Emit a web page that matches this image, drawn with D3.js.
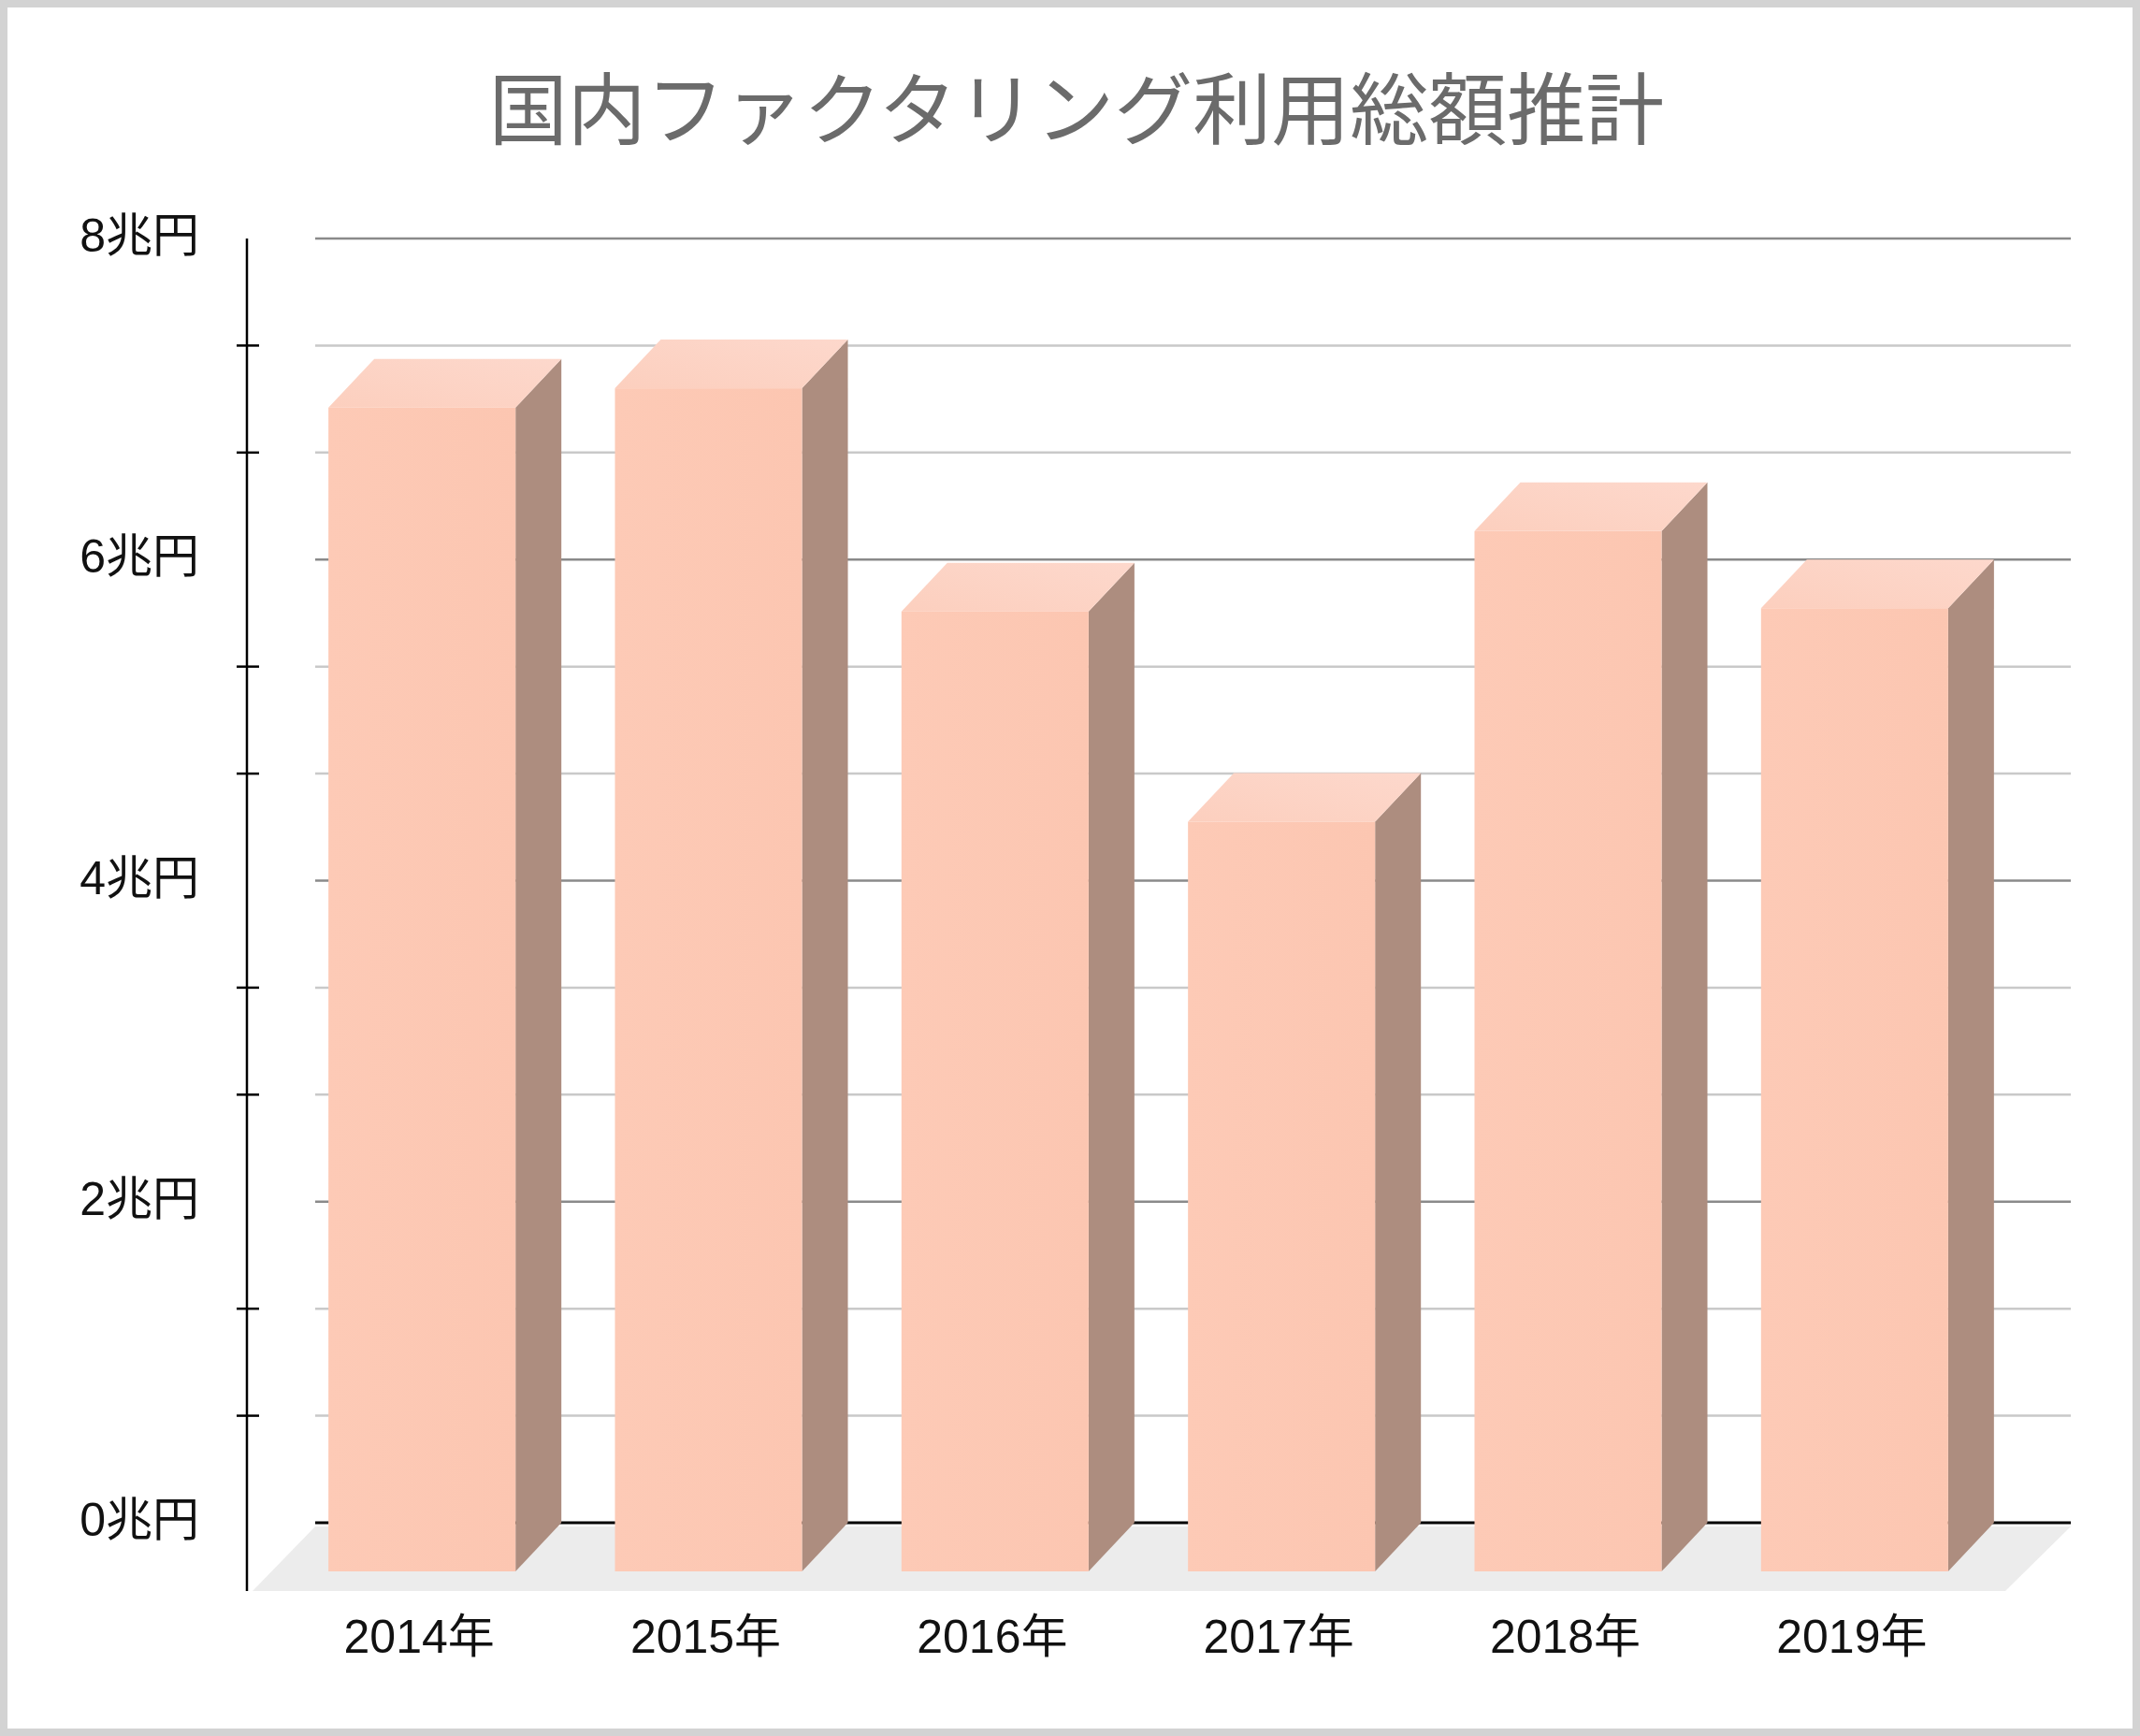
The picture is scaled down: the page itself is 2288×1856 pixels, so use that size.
<!DOCTYPE html>
<html>
<head>
<meta charset="utf-8">
<script src="https://cdn.jsdelivr.net/npm/d3@7"></script>
<style>
  body{margin:0;background:#fff;}
  svg{display:block;}
</style>
</head>
<body>
<svg id="canvas" width="2288" height="1856"></svg>
<script>
// data (兆円)
let years=["2014年","2015年","2016年","2017年","2018年","2019年"];
let values=[7.25,7.37,5.98,4.67,6.48,6.0];
let yTicks=[0,2,4,6,8];
let yTickLabels=["0兆円","2兆円","4兆円","6兆円","8兆円"];

let canvas=d3.select("#canvas");
let w=2288, h=1856;

// frame
canvas.append("rect").attr("x",4).attr("y",4).attr("width",w-8).attr("height",h-8)
  .attr("fill","#fff").attr("stroke","#d3d3d3").attr("stroke-width",8);

// title
canvas.append("text").text("国内ファクタリング利用総額推計")
  .attr("x",1151).attr("y",111).attr("text-anchor","middle").attr("dominant-baseline","central")
  .style("font","400 84px 'Noto Sans CJK JP'").style("fill","#6b6b6b");

// 3d depth offset
let dx=49, dy=52;
let gridX0=337, gridX1=2214;
let axisX=264;

let yScale=d3.scaleLinear().domain([0,8]).range([1628,255]);
let xScale=d3.scaleBand().domain(years).range([298,2136]).paddingInner(0.347).paddingOuter(0.1735);

// floor
let fy0=yScale(0)+4, fy1=yScale(0)+73;
canvas.append("polygon")
  .attr("points",[[gridX0,fy0],[gridX1,fy0],[gridX1-70,fy1],[gridX0-67,fy1]].map(p=>p.join(",")).join(" "))
  .attr("fill","#ececec");

// gridlines every 2/3
let grid=d3.range(0,13).map(i=>i*2/3);
canvas.selectAll(".grid").data(grid).enter().append("line")
  .attr("x1",gridX0).attr("x2",gridX1)
  .attr("y1",d=>yScale(d)).attr("y2",d=>yScale(d))
  .style("stroke",(d,i)=>i==0?"#000":(i%3==0?"#8a8a8a":"#c9c9c9"))
  .style("stroke-width",(d,i)=>i==0?3:2.5);

// axis + minor ticks
canvas.append("line").attr("x1",axisX).attr("x2",axisX)
  .attr("y1",yScale(8)).attr("y2",fy1).style("stroke","#000").style("stroke-width",2.5);
canvas.selectAll(".tick").data(grid.filter((d,i)=>i%3!=0)).enter().append("line")
  .attr("x1",axisX-11).attr("x2",axisX+13)
  .attr("y1",d=>yScale(d)).attr("y2",d=>yScale(d))
  .style("stroke","#000").style("stroke-width",2.5);

for(let i=0;i<yTicks.length;i++){
  canvas.append("text").text(yTickLabels[i]).attr("x",213).attr("y",yScale(yTicks[i])-3)
    .attr("text-anchor","end").attr("dominant-baseline","central")
    .style("font","50px 'Liberation Sans', Arial, 'Noto Sans CJK JP'").style("fill","#111");
}

// gradients
let defs=canvas.append("defs");
let gf=defs.append("linearGradient").attr("id","front").attr("x1",0).attr("y1",0).attr("x2",1).attr("y2",0);
gf.append("stop").attr("offset","0%").attr("stop-color","#fdcab6");
gf.append("stop").attr("offset","100%").attr("stop-color","#fcc6b1");
let gt=defs.append("linearGradient").attr("id","top").attr("x1",0).attr("y1",1).attr("x2",1).attr("y2",0);
gt.append("stop").attr("offset","0%").attr("stop-color","#fccfbe");
gt.append("stop").attr("offset","100%").attr("stop-color","#fdd8cc");

let bw=xScale.bandwidth();
let pts=a=>a.map(p=>p.join(",")).join(" ");
let bars=canvas.selectAll(".bar").data(values).enter().append("g");

bars.append("polygon").attr("points",(v,i)=>{
  let x=xScale(years[i])+bw;
  return pts([[x,yScale(v)+dy],[x+dx,yScale(v)],[x+dx,yScale(0)],[x,yScale(0)+dy]]);
}).attr("fill","#ad8d7f");

bars.append("polygon").attr("points",(v,i)=>{
  let x=xScale(years[i]);
  return pts([[x,yScale(v)+dy],[x+dx,yScale(v)],[x+bw+dx,yScale(v)],[x+bw,yScale(v)+dy]]);
}).attr("fill","url(#top)");

bars.append("rect").attr("x",(v,i)=>xScale(years[i])).attr("width",bw)
  .attr("y",v=>yScale(v)+dy).attr("height",v=>yScale(0)-yScale(v))
  .attr("fill","url(#front)");

// x labels
canvas.selectAll(".xl").data(years).enter().append("text").text(d=>d)
  .attr("x",d=>xScale(d)+bw/2-3).attr("y",1767).attr("text-anchor","middle")
  .style("font","50px 'Liberation Sans', Arial, 'Noto Sans CJK JP'").style("fill","#111");
</script>
</body>
</html>
